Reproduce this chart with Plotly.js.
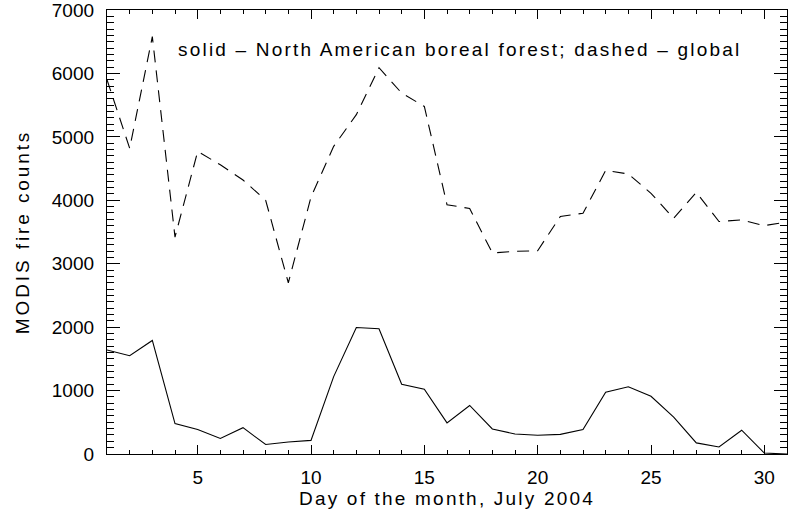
<!DOCTYPE html>
<html>
<head>
<meta charset="utf-8">
<script src="https://cdn.plot.ly/plotly-3.0.1.min.js"></script>
<style>
  html, body { margin: 0; padding: 0; background: #fff; }
  #chart { width: 788px; height: 515px; }
  .xtitle, .annotation-text { letter-spacing: 2.2px; }
  .ytitle { letter-spacing: 2.9px; }
</style>
</head>
<body>
<div id="chart"></div>
<script>
const days = [1,2,3,4,5,6,7,8,9,10,11,12,13,14,15,16,17,18,19,20,21,22,23,24,25,26,27,28,29,30,31];
const borealCounts = [1640,1550,1790,480,385,245,415,150,190,215,1220,1995,1975,1100,1020,490,765,395,315,295,310,385,975,1060,910,580,175,110,375,15,0];
const globalCounts = [5900,4820,6580,3420,4770,4560,4320,4000,2700,4050,4850,5350,6090,5690,5480,3930,3870,3170,3195,3205,3745,3795,4470,4415,4110,3715,4125,3665,3690,3600,3660];
const noteText = "solid – North American boreal forest; dashed – global";
const xTitle = "Day of the month, July 2004";
const yTitle = "MODIS fire counts";

const font = {family: "Liberation Sans, Arial, sans-serif", size: 19, color: "#000"};

const traces = [
  {x: days, y: borealCounts, type: "scatter", mode: "lines",
   line: {color: "#000", width: 1.1}, name: "North American boreal forest"},
  {x: days, y: globalCounts, type: "scatter", mode: "lines",
   line: {color: "#000", width: 1.1, dash: "12px,8px"}, name: "global"},
  // invisible carriers so the tick-only overlay axes get drawn
  {x: days, y: borealCounts, xaxis: "x2", yaxis: "y2", type: "scatter", mode: "lines",
   opacity: 0, hoverinfo: "skip", showlegend: false, line: {color: "#000", width: 0.1}},
  {x: days, y: borealCounts, xaxis: "x3", yaxis: "y3", type: "scatter", mode: "lines",
   opacity: 0, hoverinfo: "skip", showlegend: false, line: {color: "#000", width: 0.1}}
];

const xRange = [1, 31], yRange = [0, 7000];

function tickAxis(extra) {
  return Object.assign({
    ticks: "inside", tickcolor: "#000", tickwidth: 1, mirror: "ticks",
    showticklabels: false, showline: true, linecolor: "#000", linewidth: 1.3,
    showgrid: false, zeroline: false
  }, extra);
}

const layout = {
  width: 788, height: 515,
  margin: {l: 107, r: 1, t: 10, b: 61},
  showlegend: false,
  xaxis: {
    range: xRange, tick0: 0, dtick: 5, ticks: "inside", ticklen: 9, tickcolor: "#000",
    showline: true, linecolor: "#000", linewidth: 1.3, mirror: true,
    showgrid: false, zeroline: false, tickfont: font, ticklabelstandoff: 6, ticklabeloverflow: "allow",
    title: {text: xTitle, font: font, standoff: 2}
  },
  yaxis: {
    range: yRange, tick0: 0, dtick: 1000, ticks: "inside", ticklen: 13, tickcolor: "#000",
    showline: true, linecolor: "#000", linewidth: 1.3, mirror: true,
    showgrid: false, zeroline: false, tickfont: font, ticklabelstandoff: 8, ticklabeloverflow: "allow",
    title: {text: yTitle, font: font, standoff: 17}
  },
  xaxis2: tickAxis({overlaying: "x", anchor: "y2", side: "bottom", range: xRange, tick0: 0, dtick: 5, ticklen: 9}),
  yaxis2: tickAxis({overlaying: "y", anchor: "x2", side: "left", range: yRange, tick0: 0, dtick: 1000, ticklen: 13}),
  xaxis3: tickAxis({overlaying: "x", anchor: "y3", side: "bottom", range: xRange, tick0: 0, dtick: 1, ticklen: 4}),
  yaxis3: tickAxis({overlaying: "y", anchor: "x3", side: "left", range: yRange, tick0: 0, dtick: 100, ticklen: 7}),
  annotations: [{
    text: noteText, xref: "paper", yref: "paper", x: 0.519, y: 0.91,
    xanchor: "center", yanchor: "middle", showarrow: false, font: font
  }]
};

Plotly.newPlot("chart", traces, layout, {displayModeBar: false});
</script>
</body>
</html>
